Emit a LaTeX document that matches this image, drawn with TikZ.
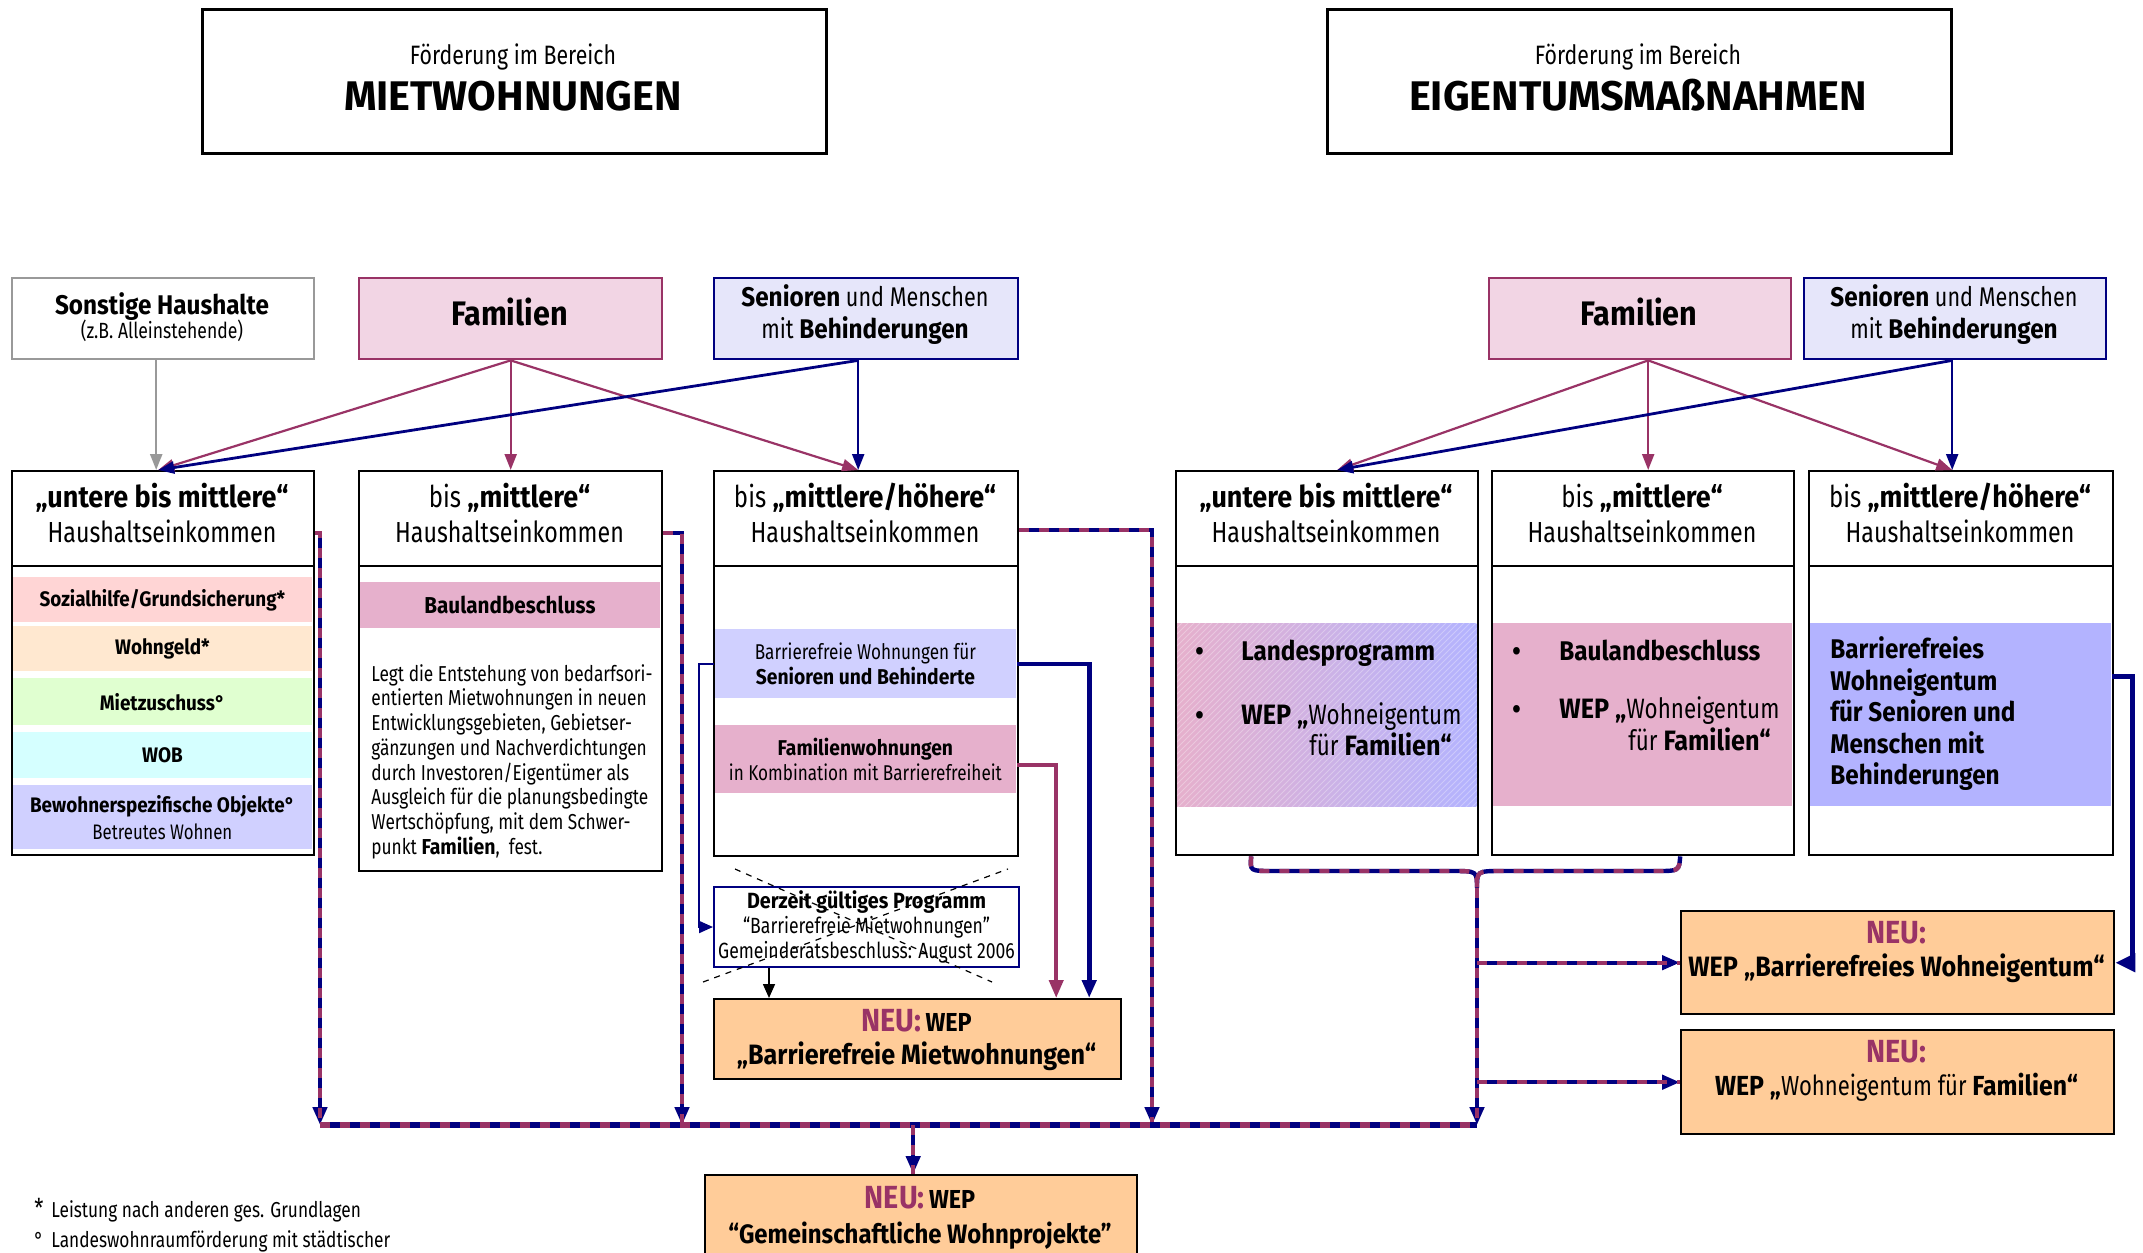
\documentclass[tikz,border=0pt]{standalone}
\usepackage{fontspec}
\setmainfont{Fira Sans}[UprightFeatures={FakeStretch=0.8}, BoldFeatures={FakeStretch=0.9}]
\newfontfamily\hdfont{Fira Sans}
\usetikzlibrary{arrows.meta,positioning,patterns}

\definecolor{plum}{HTML}{993366}
\definecolor{navyb}{HTML}{000080}
\definecolor{famfill}{HTML}{F2D5E4}
\definecolor{senfill}{HTML}{E6E6FA}
\definecolor{mauve}{HTML}{E6B0CC}
\definecolor{lilac}{HTML}{D0D0FF}
\definecolor{lilacdark}{HTML}{B3B3FF}
\definecolor{rosa}{HTML}{FFD5D5}
\definecolor{apricot}{HTML}{FFE8D0}
\definecolor{mint}{HTML}{E0FFD0}
\definecolor{aqua}{HTML}{D5FFFF}
\definecolor{peach}{HTML}{FFCC99}

\newcommand{\fsz}[2]{\fontsize{#1}{#2}\selectfont}

\tikzset{
  box/.style={draw, line width=1.2pt, rectangle, inner sep=0pt, anchor=north west},
  band/.style={rectangle, inner sep=0pt, anchor=north west, align=center},
  txt/.style={inner sep=0pt, align=center},
  famarrow/.style={draw=plum, line width=1.1pt, -{Triangle[length=8pt,width=6pt]}},
  senarrow/.style={draw=navyb, line width=1.4pt, -{Triangle[length=8pt,width=6pt]}},
  mix/.style={draw=navyb, line width=2.2pt, postaction={draw=plum, dash pattern=on 5pt off 5pt, arrows=-}},
  mixarrow/.style={mix, -{Triangle[length=9pt,width=7pt]}},
  neubox/.style={box, fill=peach, minimum width=216.5pt},
}

\begin{document}
\begin{tikzpicture}[x=0.5pt,y=-0.5pt]
\useasboundingbox (0,0) rectangle (2143,1253);
\clip (0,0) rectangle (2143,1253);
\fill[white] (0,0) rectangle (2143,1253);

% Headers
\node[box, line width=1.4pt, minimum width=312pt, minimum height=72pt] (hdrM) at (201,8) {};
\node[txt, anchor=base, font=\fsz{13.3}{15}] (hdrMa) at (513,64) {Förderung im Bereich};
\node[txt, anchor=base, font=\hdfont\bfseries\fsz{20.7}{24}] (hdrMb) at (513,110) {MIETWOHNUNGEN};
\node[box, line width=1.4pt, minimum width=312pt, minimum height=72pt] (hdrE) at (1326,8) {};
\node[txt, anchor=base, font=\fsz{13.3}{15}] (hdrEa) at (1638,64) {Förderung im Bereich};
\node[txt, anchor=base, font=\hdfont\bfseries\fsz{20.7}{24}] (hdrEb) at (1638,110) {EIGENTUMSMAßNAHMEN};

% Target groups
\node[box, draw=gray!80, minimum width=151pt, minimum height=40.5pt] (sonst) at (11,277) {};
\node[txt, anchor=base, font=\fsz{13.5}{16}\bfseries] (sonsta) at (162,314) {Sonstige Haushalte};
\node[txt, anchor=base, font=\fsz{11}{13}] (sonstb) at (162,338) {(z.B. Alleinstehende)};
\node[box, draw=plum, fill=famfill, minimum width=151.5pt, minimum height=40.5pt] (famM) at (358,277) {};
\node[txt, anchor=base, font=\fsz{17}{20}\bfseries] (famMt) at (509.5,325) {Familien};
\node[box, draw=navyb, fill=senfill, minimum width=152pt, minimum height=40.5pt] (senM) at (713,277) {};
\node[txt, anchor=base, font=\fsz{13.5}{16}] (senMa) at (865,306) {\textbf{Senioren} und Menschen};
\node[txt, anchor=base, font=\fsz{13.5}{16}] (senMb) at (865,338) {mit \textbf{Behinderungen}};
\node[box, draw=plum, fill=famfill, minimum width=151pt, minimum height=40.5pt] (famE) at (1488,277) {};
\node[txt, anchor=base, font=\fsz{17}{20}\bfseries] (famEt) at (1639,325) {Familien};
\node[box, draw=navyb, fill=senfill, minimum width=151pt, minimum height=40.5pt] (senE) at (1803,277) {};
\node[txt, anchor=base, font=\fsz{13.5}{16}] (senEa) at (1954,306) {\textbf{Senioren} und Menschen};
\node[txt, anchor=base, font=\fsz{13.5}{16}] (senEb) at (1954,338) {mit \textbf{Behinderungen}};

% Bands, left column
\node[band, fill=rosa, minimum width=150pt, minimum height=22.5pt, font=\fsz{10.5}{12}\bfseries] (soz) at (12,577) {Sozialhilfe/Grundsicherung*};
\node[band, fill=apricot, minimum width=150pt, minimum height=22.5pt, font=\fsz{10.5}{12}\bfseries] (wg) at (12,626) {Wohngeld*};
\node[band, fill=mint, minimum width=150pt, minimum height=23.5pt, font=\fsz{10.5}{12}\bfseries] (mz) at (12,678) {Mietzuschuss°};
\node[band, fill=aqua, minimum width=150pt, minimum height=23pt, font=\fsz{10.5}{12}\bfseries] (wob) at (12,732) {WOB};
\node[band, fill=lilac, minimum width=150pt, minimum height=32pt, font=\fsz{10.5}{13.5}] (bew) at (12,785) {\textbf{Bewohnerspezifische Objekte°}\\Betreutes Wohnen};
\node[band, fill=mauve, minimum width=150.5pt, minimum height=23pt, font=\fsz{11.5}{13}\bfseries] (bauland) at (359,582) {Baulandbeschluss};
\node[txt, anchor=north west, align=left, font=\fsz{10.8}{12.35}] (baulandtxt) at (371,664) {Legt die Entstehung von bedarfsori-\\entierten Mietwohnungen in neuen\\Entwicklungsgebieten, Gebietser-\\gänzungen und Nachverdichtungen\\durch Investoren/Eigentümer als\\Ausgleich für die planungsbedingte\\Wertschöpfung, mit dem Schwer-\\punkt \textbf{Familien},~ fest.};
\node[band, fill=lilac, minimum width=151pt, minimum height=34.5pt, font=\fsz{10.7}{12.5}] (barr) at (714,629) {Barrierefreie Wohnungen für\\\textbf{Senioren und Behinderte}};
\node[band, fill=mauve, minimum width=151pt, minimum height=34pt, font=\fsz{10.7}{12.5}] (famw) at (714,725) {\textbf{Familienwohnungen}\\in Kombination mit Barrierefreiheit};

% Bands, right side
\node[band, left color=mauve, right color=lilacdark, minimum width=150pt, minimum height=91.5pt] (bandUE) at (1176,623) {};
\fill[pattern=north east lines, pattern color=white, opacity=0.3] (bandUE.north west) rectangle (bandUE.south east);
\node[band, fill=mauve, minimum width=150pt, minimum height=91.5pt] (bandME) at (1492,623) {};
\node[band, fill=lilacdark, minimum width=151pt, minimum height=91.5pt] (bandHE) at (1809,623) {};
\node[txt, anchor=base west, font=\fsz{13.5}{15}\bfseries] (ueb1) at (1195,660) {•};
\node[txt, anchor=base west, font=\fsz{13.5}{15}\bfseries] (uet1) at (1241,660) {Landesprogramm};
\node[txt, anchor=base west, font=\fsz{13.5}{15}\bfseries] (ueb2) at (1195,724) {•};
\node[txt, anchor=base west, font=\fsz{14}{15}] (uet2) at (1241,724) {\textbf{WEP „}Wohneigentum};
\node[txt, anchor=base west, font=\fsz{14}{15}] (uet3) at (1309,755) {für \textbf{Familien“}};
\node[txt, anchor=base west, font=\fsz{13.5}{15}\bfseries] (meb1) at (1512,660) {•};
\node[txt, anchor=base west, font=\fsz{13.5}{15}\bfseries] (met1) at (1559,660) {Baulandbeschluss};
\node[txt, anchor=base west, font=\fsz{13.5}{15}\bfseries] (meb2) at (1512,718) {•};
\node[txt, anchor=base west, font=\fsz{14}{15}] (met2) at (1559,718) {\textbf{WEP „}Wohneigentum};
\node[txt, anchor=base west, font=\fsz{14}{15}] (met3) at (1628,750) {für \textbf{Familien“}};
\node[txt, anchor=west, align=left, font=\fsz{13.5}{15.75}\bfseries] (het) at (1830,714) {Barrierefreies\\Wohneigentum\\für Senioren und\\Menschen mit\\Behinderungen};

% Income boxes
\node[box, minimum width=151pt, minimum height=192pt] (untM) at (11,470) {};
\node[box, minimum width=151.5pt, minimum height=200pt] (mitM) at (358,470) {};
\node[box, minimum width=152pt, minimum height=192.5pt] (hohM) at (713,470) {};
\node[box, minimum width=151pt, minimum height=192pt] (untE) at (1175,470) {};
\node[box, minimum width=151pt, minimum height=192pt] (mitE) at (1491,470) {};
\node[box, minimum width=152pt, minimum height=192pt] (hohE) at (1808,470) {};
\foreach \b in {untM,mitM,hohM,untE,mitE,hohE}
  \draw[line width=1.2pt] ([yshift=-48pt]\b.north west) -- ([yshift=-48pt]\b.north east);
\foreach \x/\n in {162/untM,509.5/mitM,865/hohM,1326/untE,1642/mitE,1960/hohE}
  \node[txt, anchor=base, font=\fsz{14.5}{18}] (hk\n) at (\x,542) {Haushaltseinkommen};
\foreach \x/\n in {162/untM,1326/untE}
  \node[txt, anchor=base, font=\fsz{15}{18}\bfseries] (ek\n) at (\x,507) {„untere bis mittlere“};
\foreach \x/\n in {509.5/mitM,1642/mitE}
  \node[txt, anchor=base, font=\fsz{15}{18}] (ek\n) at (\x,507) {bis \textbf{„mittlere“}};
\foreach \x/\n in {865/hohM,1960/hohE}
  \node[txt, anchor=base, font=\fsz{15}{18}] (ek\n) at (\x,507) {bis \textbf{„mittlere/höhere“}};

% Programmes
\node[box, draw=navyb, line width=1pt, minimum width=152.5pt, minimum height=40pt, align=center, font=\fsz{11}{12.5}] (derz) at (713,886) {\textbf{Derzeit gültiges Programm}\\“Barrierefreie Mietwohnungen”\\Gemeinderatsbeschluss: August 2006};
\draw[dashed, line width=0.6pt] (735,869) -- (992,982);
\draw[dashed, line width=0.6pt] (703,982) -- (1008,869);
\node[neubox, minimum width=203.5pt, minimum height=40pt] (neuBM) at (713,998) {};
\node[txt, anchor=base, font=\bfseries] (neuBMa) at (916.5,1031) {\textcolor{plum}{\fsz{16}{18}NEU:} \fsz{13}{15}WEP};
\node[txt, anchor=base, font=\fsz{14}{16}\bfseries] (neuBMb) at (916.5,1064) {„Barrierefreie Mietwohnungen“};
\node[neubox, minimum height=51.5pt] (neuBW) at (1680,910) {};
\node[txt, anchor=base, font=\fsz{16}{18}\bfseries, text=plum] (neuBWa) at (1896.5,943) {NEU:};
\node[txt, anchor=base, font=\fsz{14}{16}\bfseries] (neuBWb) at (1896.5,976) {WEP „Barrierefreies Wohneigentum“};
\node[neubox, minimum height=52pt] (neuWF) at (1680,1029) {};
\node[txt, anchor=base, font=\fsz{16}{18}\bfseries, text=plum] (neuWFa) at (1896.5,1062) {NEU:};
\node[txt, anchor=base, font=\fsz{13.8}{16}] (neuWFb) at (1896.5,1095) {\textbf{WEP „}Wohneigentum für \textbf{Familien“}};
\node[neubox, minimum width=216pt, minimum height=60pt] (neuGW) at (704,1174) {};
\node[txt, anchor=base, font=\bfseries] (neuGWa) at (920,1208) {\textcolor{plum}{\fsz{16}{18}NEU:} \fsz{13}{15}WEP};
\node[txt, anchor=base, font=\fsz{13.3}{16}\bfseries] (neuGWb) at (920,1243) {“Gemeinschaftliche Wohnprojekte”};

% Footnotes
\node[txt, anchor=base west, font=\fsz{10.8}{12}] (fn1) at (34,1217) {\makebox[8.5pt][l]{\fsz{13}{12}*}Leistung nach anderen ges. Grundlagen};
\node[txt, anchor=base west, font=\fsz{10.8}{12}] (fn2) at (34,1247) {\makebox[8.5pt][l]{°}Landeswohnraumförderung mit städtischer};

% Arrows from target groups
\coordinate (tipUM) at ([xshift=-2.5pt]untM.north);
\draw[draw=gray!80, line width=1.2pt, -{Triangle[length=8pt,width=6pt]}] ([xshift=-3.5pt]sonst.south) -- ([xshift=-3.5pt]untM.north);
\draw[famarrow] (famM.south) -- (tipUM);
\draw[famarrow] (famM.south) -- (mitM.north);
\draw[famarrow] (famM.south) -- ([xshift=-4pt]hohM.north);
\draw[senarrow] ([xshift=-4pt]senM.south) -- (tipUM);
\draw[senarrow, line width=1.1pt] ([xshift=-4pt]senM.south) -- ([xshift=-4pt]hohM.north);
\draw[famarrow] ([xshift=4pt]famE.south) -- ([xshift=5pt]untE.north);
\draw[famarrow] ([xshift=4pt]famE.south) -- ([xshift=2.5pt]mitE.north);
\draw[famarrow] ([xshift=4pt]famE.south) -- ([xshift=-4.5pt]hohE.north);
\draw[senarrow] ([xshift=-1.5pt]senE.south) -- ([xshift=5pt]untE.north);
\draw[senarrow, line width=1.1pt] ([xshift=-1.5pt]senE.south) -- ([xshift=-4.5pt]hohE.north);

% Connectors to the new programmes
\draw[draw=navyb, line width=2.4pt, -{Triangle[length=9pt,width=7pt]}] (barr.east) -| ([xshift=85.75pt]neuBM.north);
\draw[draw=plum, line width=2pt, -{Triangle[length=9pt,width=7pt]}] ([yshift=-3pt]famw.east) -| ([xshift=69.25pt]neuBM.north);
\draw[draw=navyb, line width=1pt, -{Triangle[length=7pt,width=6pt]}] (barr.west) -- ++(-15,0) |- (derz.west);
\draw[line width=0.8pt, -{Triangle[length=7pt,width=6pt]}] ([xshift=-48.75pt]derz.south) -- ([xshift=-48.75pt]derz.south |- neuBM.north);
\draw[draw=navyb, line width=2.4pt, -{Triangle[length=10pt,width=9pt]}] ([yshift=19.25pt]bandHE.east) -- ++(21,0) |- (neuBW.east);

% Collecting lines
\coordinate (busL) at (320,1125);
\coordinate (busB) at (682,1125);
\coordinate (busC) at (1152,1125);
\coordinate (busR) at (1477,1125);
\coordinate (brL) at ([xshift=-38pt]untE.south);
\coordinate (brR) at ([xshift=18.5pt]mitE.south);
\coordinate (brM) at (1477,888);
\draw[mixarrow] ([yshift=-31.5pt]untM.north east) -| (busL);
\draw[mixarrow] ([yshift=-31.5pt]mitM.north east) -| (busB);
\draw[mixarrow] ([yshift=-30pt]hohM.north east) -| (busC);
\draw[mix] (brL) .. controls (1250,871) .. (1272,871) -- (1452,871) .. controls (1477,871) .. (brM) .. controls (1477,871) .. (1502,871) -- (1657,871) .. controls (1679,871) .. (brR);
\draw[mixarrow] (brM) -- (busR);
\draw[mixarrow] (busR |- neuBW.west) -- (neuBW.west);
\draw[mixarrow] (busR |- neuWF.west) -- (neuWF.west);
\draw[mix, line width=2.8pt] (busL) -- (busR);
\draw[mixarrow] ([xshift=-4pt]neuGW.north |- busL) -- ([xshift=-4pt]neuGW.north);
\end{tikzpicture}
\end{document}
